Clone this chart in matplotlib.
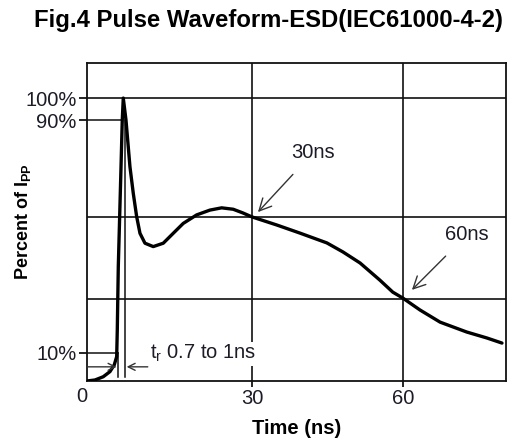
import matplotlib.pyplot as plt
from matplotlib.transforms import blended_transform_factory

plt.rcParams['font.family'] = ['Liberation Sans', 'DejaVu Sans']
plt.rcParams['mathtext.fontset'] = 'custom'
plt.rcParams['mathtext.rm'] = 'Liberation Sans'
plt.rcParams['mathtext.it'] = 'Liberation Sans'
plt.rcParams['mathtext.bf'] = 'Liberation Sans:bold'

# ESD pulse (schematic)
time_ns = [-2.78, -1.19, 0.45, 1.78, 2.64, 3.12, 3.24, 3.44, 3.91, 4.23, 4.43,
           4.97, 5.76, 6.42, 7.09, 7.75, 8.74, 10.39, 12.38, 14.36, 16.35,
           19.01, 21.65, 23.98, 26.28, 28.2, 30.0, 35.0, 39.5, 44.9, 48.1,
           51.5, 55.4, 58.0, 60.0, 63.4, 67.4, 72.7, 76.7, 79.7]
percent = [0.0, 0.35, 1.5, 3.3, 5.7, 8.6, 18.0, 40.4, 71.0, 92.2, 100.0,
           92.2, 75.7, 66.3, 58.1, 52.2, 48.7, 47.5, 48.7, 52.2, 55.7,
           58.7, 60.4, 61.2, 60.7, 59.4, 58.0, 55.1, 52.3, 48.8, 45.6,
           41.7, 35.7, 31.4, 29.3, 25.1, 20.8, 17.3, 15.2, 13.4]

ytick_pos = [100, 92.1, 10]
ytick_lab = ['100%', '90%', '10%']
xtick_pos = [30, 60]
xtick_lab = ['30', '60']
grid_y = [100, 58, 29]
grid_x = [30, 60]

XMIN, XMAX = -2.78, 80.5
YMIN, YMAX = 0, 112.4
ink = '#1c1c28'

fig = plt.figure(figsize=(5.16, 4.48), dpi=100)
ax = fig.add_axes([0.1686, 0.1496, 0.8120, 0.7098])
ax.set_xlim(XMIN, XMAX)
ax.set_ylim(YMIN, YMAX)

for s in ax.spines.values():
    s.set_linewidth(1.3)
    s.set_color('#111111')

for gy in grid_y:
    ax.axhline(gy, color='#111111', lw=1.2, zorder=1)
for gx in grid_x:
    ax.axvline(gx, color='#111111', lw=1.2, zorder=1)

ax.plot(time_ns, percent, color='black', lw=2.4, solid_capstyle='round',
        solid_joinstyle='round', zorder=3)

# rise time markers
ax.plot([XMIN, 4.2], [92.1, 92.1], color='#111111', lw=1.1, zorder=2)
ax.plot([XMIN, 3.3], [10.0, 10.0], color='#111111', lw=1.1, zorder=2)
ax.plot([3.35, 3.35], [1.4, 10.0], color='#111111', lw=1.1, zorder=2)
ax.plot([4.77, 4.77], [1.4, 92.1], color='#111111', lw=1.1, zorder=2)
ax.annotate('', xy=(3.1, 5.0), xytext=(XMIN, 5.0),
            arrowprops=dict(arrowstyle='->,head_length=0.5,head_width=0.25',
                            lw=1.0, color='#333333', shrinkA=0, shrinkB=0))
ax.annotate('', xy=(5.1, 5.0), xytext=(9.3, 5.0),
            arrowprops=dict(arrowstyle='->,head_length=0.5,head_width=0.25',
                            lw=1.0, color='#333333', shrinkA=0, shrinkB=0))
ax.text(9.8, 9.6, r'$\mathregular{t_r}$ 0.7 to 1ns', fontsize=14.5, color=ink,
        ha='left', va='center', zorder=4,
        bbox=dict(facecolor='white', edgecolor='none', pad=1.0))

# point labels
ax.annotate('30ns', xy=(31.2, 59.7), xytext=(42.1, 80.6), fontsize=14.5,
            color=ink, ha='center', va='center',
            arrowprops=dict(arrowstyle='->,head_length=0.6,head_width=0.3',
                            lw=1.0, color='#333333', shrinkA=9, shrinkB=0))
ax.annotate('60ns', xy=(61.8, 32.2), xytext=(72.7, 51.6), fontsize=14.5,
            color=ink, ha='center', va='center',
            arrowprops=dict(arrowstyle='->,head_length=0.6,head_width=0.3',
                            lw=1.0, color='#333333', shrinkA=9, shrinkB=0))

ax.set_yticks(ytick_pos)
ax.set_yticklabels(ytick_lab, fontsize=14.5, color=ink)
ax.set_xticks(xtick_pos)
ax.set_xticklabels(xtick_lab, fontsize=14.5, color=ink)
ax.tick_params(axis='y', length=6, width=1.2, pad=1.5)
ax.tick_params(axis='x', length=4, width=1.2, pad=2)
trans = blended_transform_factory(ax.transData, ax.transAxes)
ax.text(-3.9, -0.02, '0', transform=trans, fontsize=14.5, color=ink,
        ha='center', va='top')

ax.set_xlabel('Time (ns)', fontsize=14.5, fontweight='bold', labelpad=8)
ax.set_ylabel(r'Percent of I$\mathbf{_{PP}}$', fontsize=13, fontweight='bold')
ax.yaxis.set_label_coords(-0.128, 0.5)
fig.text(0.521, 0.955, 'Fig.4 Pulse Waveform-ESD(IEC61000-4-2)', fontsize=17.2,
         fontweight='bold', ha='center', va='center')

fig.savefig('out.png', dpi=100)
